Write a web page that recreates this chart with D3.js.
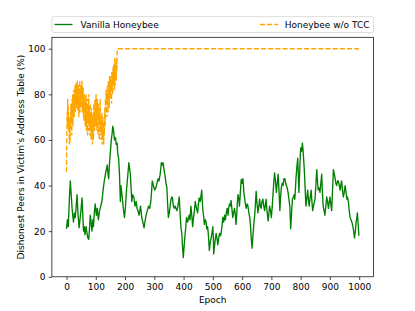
<!DOCTYPE html>
<html>
<head>
<meta charset="utf-8">
<script src="https://cdn.jsdelivr.net/npm/d3@7"></script>
<style>
  html, body { margin: 0; padding: 0; background: #fff; }
  svg { display: block; font-family: "DejaVu Sans", sans-serif; }
</style>
</head>
<body>
<svg id="chart" width="415" height="311"></svg>
<script>
// ---- Data ----
const seriesNames = ["Vanilla Honeybee", "Honeybee w/o TCC"];

const greenEpochs = [0,3,6,10,13,16,19,22,24,27,30,33,36,39,43,46,50,53,56,58,61,63,67,70,73,76,79,81,84,87,90,92,95,98,102,105,109,113,117,121,125,129,133,136,139,142,144,147,150,153,156,158,161,164,167,170,173,175,178,181,184,186,188,191,194,198,201,205,209,213,216,218,221,223,226,230,234,238,241,244,248,253,257,261,265,269,272,276,280,284,288,291,293,297,301,305,309,313,316,320,324,327,330,333,337,340,343,345,348,351,354,357,360,362,365,368,371,374,377,379,382,385,388,391,394,396,399,401,404,407,410,414,419,422,425,428,431,434,437,440,444,448,450,453,457,460,462,464,466,469,471,474,477,479,482,485,488,491,494,497,500,502,503,506,509,511,514,517,520,523,526,528,531,534,537,540,543,546,549,552,554,557,560,562,565,568,571,574,577,579,582,584,586,589,591,594,597,600,603,606,609,611,614,617,620,623,626,629,631,634,637,640,643,645,648,651,654,657,660,662,665,668,671,674,677,679,682,685,689,691,694,697,700,703,706,708,711,714,717,720,723,726,729,731,734,737,740,743,746,749,751,754,757,760,763,766,769,772,775,778,780,782,784,787,790,792,794,797,800,803,806,808,810,812,814,816,818,821,824,826,829,832,836,838,841,844,847,849,852,855,857,860,863,866,869,872,874,877,880,883,886,889,892,895,898,900,903,906,909,912,915,918,920,923,926,929,932,935,937,940,943,946,949,952,955,958,960,963,966,969,972,975,977,980,982,984,987,989,992,994,996,999];
const greenValues = [21,25,22,35,42,36,30,26,24,28,26,31,36,28,21.5,25,30,34.6,26,20,22,18.5,22,19,17,16.4,22,27,24,20,25,22,28,32,27,30,25,29,31,33,38,42,45,47,49,45,43,50,55,60,63,66,64,60,61,58,58.6,54,52,45,33,40,37.6,34,30,26,30,38,44,50,47,45,38,33,36,35,31,33,30,29,27,31,26,24,21.5,25,27,29,31,30,33,38,42,40,38,39,41,43,42,45,50,49,50,47,44,41,39,33,26,28,31,34,35,34.6,31,30,31,30,29,30,32,35,28,21.5,19,14,8.4,12,17,21,26,24,27,25,31,27,22,26,29,33,30,28,31,34.6,33,36,38,33,29,26,23,25,24,21,22,18,11.6,15,17,19,22,16,10,14,17,19,17,14,17,19,18,19,22,26,24,27,25,28,30,27,30,32,31,33.5,30,26,28,30,27,23,28,33,36,34,31,37,42.7,41,43,37,34,32,30,32,31,28,26,22,17,12.5,18,23,27,31,37.5,32,28,31,34,31,30,33,34,31,29,31,34,29,24.5,27,31,29,26,31,37,41,45.5,42,37,41,45,38,29,34,39,41,40,43,43,41,40,39,37,34,31,21,28,34,35,36,34,38,43,48,52,45,37,47,56.5,55,58.6,56,52,48,43,37,31,34,38,35,31,34,38,34,29,31,33,34,40,47,43,38,39,37,41,45,38,31,29,27,31,35,33,30,33,35,32,29,38,47,45,43,41,40,42,42,40,38,40,42,38,35,37,40,37,34,35,33,29,26,25,24,23,21,19,17,20,23.5,26,28,24,18];

// Orange: one reading per epoch 0..175, then flat at 100 up to epoch 999
const orangeEpochs = [0,1,2,3,4,5,6,7,8,9,10,11,12,13,14,15,16,17,18,19,20,21,22,23,24,25,26,27,28,29,30,31,32,33,34,35,36,37,38,39,40,41,42,43,44,45,46,47,48,49,50,51,52,53,54,55,56,57,58,59,60,61,62,63,64,65,66,67,68,69,70,71,72,73,74,75,76,77,78,79,80,81,82,83,84,85,86,87,88,89,90,91,92,93,94,95,96,97,98,99,100,101,102,103,104,105,106,107,108,109,110,111,112,113,114,115,116,117,118,119,120,121,122,123,124,125,126,127,128,129,130,131,132,133,134,135,136,137,138,139,140,141,142,143,144,145,146,147,148,149,150,151,152,153,154,155,156,157,158,159,160,161,162,163,164,165,166,167,168,169,170,171,172,173,174,175,999];
const orangeValues = [
  46,62,72,66,78,70,75,64,70,60,
  58,66,59,72,65,76,68,74,62,78,
  70,80,66,76,72,82,70,78,74,84,
  72,80,76,85,74,82,78,86,73,80,
  76,84,70,82,78,86,72,80,76,84,
  74,82,78,86,72,80,74,83,70,78,
  68,80,74,78,66,76,70,80,64,74,
  68,78,62,72,76,68,80,64,74,70,
  62,76,66,72,60,74,68,62,70,58,
  66,72,60,76,68,74,64,78,70,76,
  66,80,72,76,64,78,70,74,62,76,
  68,72,60,74,66,78,64,70,60,68,
  62,72,58,66,70,60,64,58,68,62,
  70,74,66,78,72,82,76,80,70,84,
  76,82,72,86,78,84,74,88,80,84,
  78,88,82,86,76,90,82,88,80,92,
  84,93,86,90,82,96,84,92,88,94,
  86,96,90,98,100,100,
  100];

const xTicks = [0,100,200,300,400,500,600,700,800,900,1000];
const yTicks = [0,20,40,60,80,100];
const xLabel = "Epoch";
const yLabel = "Dishonest Peers in Victim's Address Table (%)";

// ---- Layout ----
const L = 51.9, R = 373.5, T = 37.3, B = 276.8;
const svg = d3.select("#chart");

const x = d3.scaleLinear().domain([-49.95, 1048.95]).range([L, R]);
const y = d3.scaleLinear().domain([0, 105]).range([B, T]);

const green = greenEpochs.map((e, i) => [e, greenValues[i]]);
const orange = orangeEpochs.map((e, i) => [e, orangeValues[i]]);

const line = d3.line().x(d => x(d[0])).y(d => y(d[1]));

svg.append("defs").append("clipPath").attr("id", "clip")
  .append("rect").attr("x", L).attr("y", T).attr("width", R - L).attr("height", B - T);

const plot = svg.append("g").attr("clip-path", "url(#clip)");
plot.append("path").datum(green).attr("d", line)
  .attr("fill", "none").attr("stroke", "#008000").attr("stroke-width", 1.35)
  .attr("stroke-linejoin", "round");
plot.append("path").datum(orange).attr("d", line)
  .attr("fill", "none").attr("stroke", "#FFA500").attr("stroke-width", 1.35)
  .attr("stroke-dasharray", "5,2.16");

// Axes
const xAxis = svg.append("g").attr("transform", `translate(0,${B})`)
  .call(d3.axisBottom(x).tickValues(xTicks).tickSize(3.15).tickPadding(3.2).tickFormat(d3.format("d")));
const yAxis = svg.append("g").attr("transform", `translate(${L},0)`)
  .call(d3.axisLeft(y).tickValues(yTicks).tickSize(3.15).tickPadding(3.2).tickFormat(d3.format("d")));
[xAxis, yAxis].forEach(g => {
  g.select(".domain").remove();
  g.selectAll(".tick line").attr("stroke", "#000").attr("stroke-width", 0.72);
  g.selectAll(".tick text").attr("fill", "#000").style("font-size", "9px")
    .style("font-family", "'DejaVu Sans', sans-serif");
});

// Frame
svg.append("rect").attr("x", L).attr("y", T).attr("width", R - L).attr("height", B - T)
  .attr("fill", "none").attr("stroke", "#000").attr("stroke-width", 0.72);

// Axis labels
svg.append("text").attr("x", (L + R) / 2).attr("y", 302.5)
  .attr("text-anchor", "middle").style("font-size", "9px").text(xLabel);
svg.append("text").attr("transform", `translate(23.5,${(T + B) / 2}) rotate(-90)`)
  .attr("text-anchor", "middle").style("font-size", "9px").text(yLabel);

// Legend
const lg = svg.append("g");
lg.append("rect").attr("x", L).attr("y", 16.6).attr("width", R - L).attr("height", 15.9)
  .attr("rx", 1.8).attr("fill", "#fff").attr("fill-opacity", 0.8)
  .attr("stroke", "#d0d0d0").attr("stroke-width", 0.72);
const ly = 24.5;
lg.append("line").attr("x1", 54.5).attr("x2", 72.5).attr("y1", ly).attr("y2", ly)
  .attr("stroke", "#008000").attr("stroke-width", 1.35);
lg.append("text").attr("x", 80.5).attr("y", ly + 3.3).style("font-size", "9px").text(seriesNames[0]);
lg.append("line").attr("x1", 260).attr("x2", 278).attr("y1", ly).attr("y2", ly)
  .attr("stroke", "#FFA500").attr("stroke-width", 1.35).attr("stroke-dasharray", "5,2.16");
lg.append("text").attr("x", 369.5).attr("y", ly + 3.3).attr("text-anchor", "end")
  .style("font-size", "9px").text(seriesNames[1]);
</script>
</body>
</html>
